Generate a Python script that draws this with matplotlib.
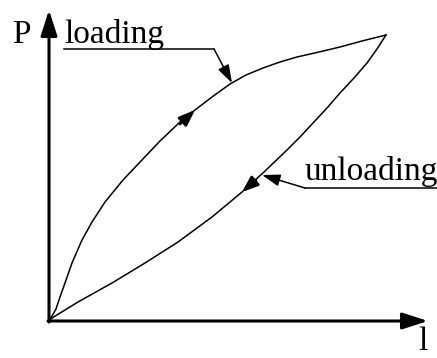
"""
Load-deformation hysteresis sketch (loading / unloading loop).
"""
import matplotlib
matplotlib.use("Agg")
import matplotlib.pyplot as plt

# loading branch (l, P)
load_l = [0, 3, 7, 11, 16, 23, 33, 43, 56, 74, 92, 111, 131, 146, 163, 181, 197, 214, 231, 248, 270, 291, 313, 337]
load_P = [0, 5, 12, 24, 38, 58, 81, 99, 119, 141, 160, 180, 199, 211, 224, 237, 246, 253, 259, 264, 269, 274, 280, 286]

# unloading branch (l, P)
unload_l = [337, 328, 318, 305, 291, 278, 264, 251, 238, 215, 193, 163, 129, 96, 63, 29, 3, 0]
unload_P = [286, 272, 258, 243, 228, 213, 198, 184, 171, 149, 129, 104, 79, 58, 38, 19, 3, 0]

# direction arrows on the branches: (tail, tip)
load_arrow = [(131, 197), (146, 211)]
unload_arrow = [(207, 141), (193, 129)]

# leader lines for the labels
load_leader = [(15, 272), (165, 272), (183, 238)]
unload_leader = [(388, 133), (256, 133), (213, 146)]

l_max, P_max = 379, 311
font = "Liberation Serif"
fs = 24

fig = plt.figure(figsize=(4.37, 3.58), dpi=100)
ax = fig.add_axes([0, 0, 1, 1])
ax.set_xlim(-49, 388)
ax.set_ylim(-37, 321)
ax.axis("off")

# axes with arrow heads
axis_style = dict(arrowstyle="-|>,head_length=15.5,head_width=5", mutation_scale=1,
                  lw=2.2, color="black", shrinkA=0, shrinkB=0)
ax.annotate("", xy=(0, P_max), xytext=(0, -1), arrowprops=axis_style)
ax.annotate("", xy=(l_max, 0), xytext=(-1, 0), arrowprops=axis_style)

ax.plot(load_l, load_P, color="black", lw=1.1, solid_joinstyle="round")
ax.plot(unload_l, unload_P, color="black", lw=1.1, solid_joinstyle="round")

curve_style = dict(arrowstyle="-|>,head_length=9.5,head_width=3.6", mutation_scale=1,
                   lw=2.0, color="black", shrinkA=0, shrinkB=0)
ax.annotate("", xy=load_arrow[1], xytext=load_arrow[0], arrowprops=curve_style)
ax.annotate("", xy=unload_arrow[1], xytext=unload_arrow[0], arrowprops=curve_style)

leader_style = dict(arrowstyle="-|>,head_length=11,head_width=3.6", mutation_scale=1,
                    lw=1.1, color="black", shrinkA=0, shrinkB=0)
for pts in (load_leader, unload_leader):
    xs, ys = zip(*pts[:2])
    ax.plot(xs, ys, color="black", lw=1.1)
    ax.annotate("", xy=pts[2], xytext=pts[1], arrowprops=leader_style)

ax.text(15, 278, "loading", family=font, fontsize=fs, va="baseline", ha="left")
ax.text(256, 141, "unloading", family=font, fontsize=fs, va="baseline", ha="left")
ax.text(-37, 278, "P", family=font, fontsize=fs, va="baseline", ha="left")
ax.text(369, -36.5, "l", family=font, fontsize=fs, va="bottom", ha="left")

fig.savefig("out.png", dpi=100)
